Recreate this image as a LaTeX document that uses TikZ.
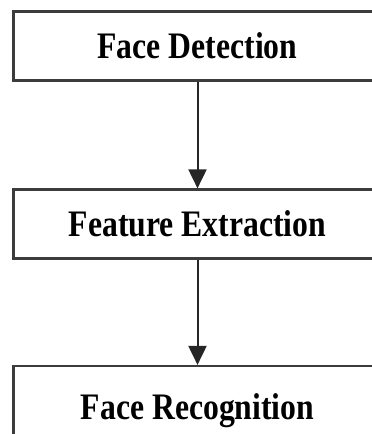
\documentclass[tikz,border=0pt]{standalone}
\usepackage{fontspec}
\setmainfont{Liberation Serif}
\usetikzlibrary{arrows.meta}
\definecolor{boxline}{HTML}{3C3C3C}

\begin{document}
\begin{tikzpicture}[x=1pt,y=-1pt,>={Triangle[width=18pt,length=19pt]},
  stage/.style={draw=boxline,line width=2.2pt,rectangle,minimum width=368pt,
    minimum height=69pt,inner sep=0pt,text height=25pt,text depth=0pt,
    font=\fontsize{31.7}{36}\selectfont\bfseries}]
\clip (0,0) rectangle (372,434);
\node[stage] (detect) at (197.5,46) {\scalebox{1}[1.18]{Face Detection}};
\node[stage] (extract) at (197.5,224) {\scalebox{1}[1.18]{Feature Extraction}};
\node[stage,minimum height=82pt] (recog) at (197.5,407) {\scalebox{1}[1.18]{Face Recognition}};
\draw[->,line width=2pt,black!85] (detect) -- (extract);
\draw[->,line width=2pt,black!85] (extract) -- (recog);
\end{tikzpicture}
\end{document}
